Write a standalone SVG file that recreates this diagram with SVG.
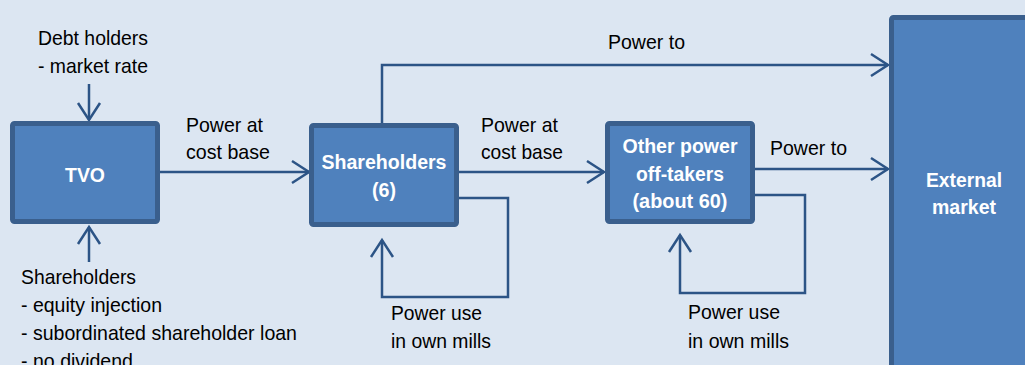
<svg xmlns="http://www.w3.org/2000/svg" width="1025" height="365" viewBox="0 0 1025 365">
<style>
.bg{fill:#dce6f2}
.box{fill:#4f81bd;stroke:#3a5f8d;stroke-width:5}
.lbl{font-family:"Liberation Sans",Arial,sans-serif;font-size:21px;fill:#000}
.nt{font-family:"Liberation Sans",Arial,sans-serif;font-size:20px;font-weight:bold;fill:#fff;text-anchor:middle}
.con{fill:none;stroke:#2c5486;stroke-width:2.5}
</style>
<defs>
<marker id="ah" viewBox="-20 -14 23 28" refX="0" refY="0" markerWidth="23" markerHeight="28" markerUnits="userSpaceOnUse" orient="auto">
<path d="M-17,-11 L0,0 L-17,11" fill="none" stroke="#2c5486" stroke-width="2.5"/>
</marker>
</defs>
<rect class="bg" x="0" y="0" width="1025" height="365"/>
<g id="connectors">
<path class="con" d="M89,84 V120" marker-end="url(#ah)"/>
<path class="con" d="M89,262 V227" marker-end="url(#ah)"/>
<path class="con" d="M160,172 H309" marker-end="url(#ah)"/>
<path class="con" d="M459,172 H604" marker-end="url(#ah)"/>
<path class="con" d="M755,169 H888" marker-end="url(#ah)"/>
<path class="con" d="M382,123 V65 H888" marker-end="url(#ah)"/>
<path class="con" d="M459,198 H508 V297 H382 V240" marker-end="url(#ah)"/>
<path class="con" d="M755,195 H805 V293 H680 V235" marker-end="url(#ah)"/>
</g>
<g id="labels">
<text class="lbl" x="38" y="45" textLength="110" lengthAdjust="spacingAndGlyphs">Debt holders</text>
<text class="lbl" x="38" y="73" textLength="110" lengthAdjust="spacingAndGlyphs">- market rate</text>
<text class="lbl" x="186" y="132" textLength="77" lengthAdjust="spacingAndGlyphs">Power at</text>
<text class="lbl" x="186" y="159" textLength="84" lengthAdjust="spacingAndGlyphs">cost base</text>
<text class="lbl" x="21" y="284" textLength="115" lengthAdjust="spacingAndGlyphs">Shareholders</text>
<text class="lbl" x="21" y="312" textLength="141" lengthAdjust="spacingAndGlyphs">- equity injection</text>
<text class="lbl" x="21" y="340" textLength="276" lengthAdjust="spacingAndGlyphs">- subordinated shareholder loan</text>
<text class="lbl" x="21" y="368" textLength="112" lengthAdjust="spacingAndGlyphs">- no dividend</text>
<text class="lbl" x="481" y="132" textLength="77" lengthAdjust="spacingAndGlyphs">Power at</text>
<text class="lbl" x="481" y="159" textLength="82" lengthAdjust="spacingAndGlyphs">cost base</text>
<text class="lbl" x="391" y="320" textLength="91" lengthAdjust="spacingAndGlyphs">Power use</text>
<text class="lbl" x="391" y="348" textLength="100" lengthAdjust="spacingAndGlyphs">in own mills</text>
<text class="lbl" x="608" y="49" textLength="77" lengthAdjust="spacingAndGlyphs">Power to</text>
<text class="lbl" x="770" y="155" textLength="77" lengthAdjust="spacingAndGlyphs">Power to</text>
<text class="lbl" x="688" y="319" textLength="92" lengthAdjust="spacingAndGlyphs">Power use</text>
<text class="lbl" x="688" y="348" textLength="101" lengthAdjust="spacingAndGlyphs">in own mills</text>
</g>
<g id="tvo">
<rect class="box" x="12.5" y="123.5" width="145" height="98" rx="2"/>
<text class="nt" x="85" y="182" textLength="40" lengthAdjust="spacingAndGlyphs">TVO</text>
</g>
<g id="shareholders">
<rect class="box" x="311.5" y="125.5" width="145" height="99" rx="2"/>
<text class="nt" x="384" y="169" textLength="125" lengthAdjust="spacingAndGlyphs">Shareholders</text>
<text class="nt" x="384" y="197" textLength="24" lengthAdjust="spacingAndGlyphs">(6)</text>
</g>
<g id="other">
<rect class="box" x="607.5" y="123.5" width="145" height="98" rx="2"/>
<text class="nt" x="680" y="153" textLength="115" lengthAdjust="spacingAndGlyphs">Other power</text>
<text class="nt" x="680" y="181" textLength="88" lengthAdjust="spacingAndGlyphs">off-takers</text>
<text class="nt" x="680" y="208" textLength="95" lengthAdjust="spacingAndGlyphs">(about 60)</text>
</g>
<g id="external">
<rect class="box" x="891.5" y="17.5" width="200" height="400" rx="2"/>
<text class="nt" x="964" y="187" textLength="76" lengthAdjust="spacingAndGlyphs">External</text>
<text class="nt" x="964" y="214" textLength="64" lengthAdjust="spacingAndGlyphs">market</text>
</g>
</svg>
